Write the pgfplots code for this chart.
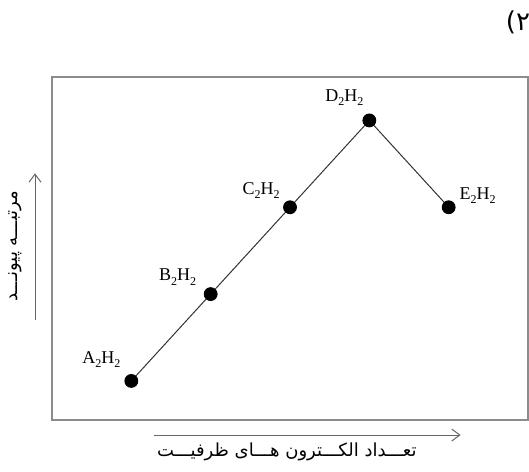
\documentclass[border=0pt]{standalone}
\usepackage{fontspec}
\setmainfont{Liberation Serif}
\newfontfamily\arabicfont[Script=Arabic]{DejaVu Sans}
\newfontfamily\dejavu{DejaVu Sans}
\TeXXeTstate=1
\usepackage{pgfplots}
\pgfplotsset{compat=1.18}
\usetikzlibrary{arrows.meta}
\newcommand{\sub}[1]{\raisebox{-0.5ex}{\fontsize{6}{7}\selectfont #1}}
\newcommand{\mol}[1]{#1\sub{2}H\sub{2}}

\begin{document}
\begin{tikzpicture}
\begin{axis}[
  width=238pt, height=171.5pt, scale only axis,
  xmin=0, xmax=6, ymin=0.55, ymax=4.5,
  axis line style={draw=black!45, line width=0.9pt},
  ticks=none,
  clip=false,
]
% bond order rises A..D, falls at E
\addplot[black!80, line width=0.5pt, mark=*, mark size=3.2pt,
  mark options={fill=black, draw=black}]
  coordinates {(1,1) (2,2) (3,3) (4,4) (5,3)};

\node[font=\fontsize{9}{10}\selectfont, xshift=-15pt, yshift=10.5pt] at (axis cs:1,1) {\mol{A}};
\node[font=\fontsize{9}{10}\selectfont, xshift=-16.5pt, yshift=8.5pt] at (axis cs:2,2) {\mol{B}};
\node[font=\fontsize{9}{10}\selectfont, xshift=-14.5pt, yshift=8.5pt] at (axis cs:3,3) {\mol{C}};
\node[font=\fontsize{9}{10}\selectfont, xshift=-12.5pt, yshift=11.5pt] at (axis cs:4,4) {\mol{D}};
\node[font=\fontsize{9}{10}\selectfont, xshift=14.5pt, yshift=6pt] at (axis cs:5,3) {\mol{E}};

% axis arrows outside the box
\draw[black!60, line width=0.5pt, -{Straight Barb[length=4pt,width=6pt]}]
  ([xshift=-8.5pt]axis cs:0,1.70) -- ([xshift=-8.5pt]axis cs:0,3.39);
\draw[black!60, line width=0.5pt, -{Straight Barb[length=4pt,width=6pt]}]
  ([yshift=-7.5pt]axis cs:1.29,0.55) -- ([yshift=-7.5pt]axis cs:5.15,0.55);

\node[rotate=90, font=\fontsize{9}{10}\selectfont] at ([xshift=-18.5pt]axis cs:0,2.55)
  {\arabicfont\beginR مرتبـــه پیونـــد\endR};
\node[font=\fontsize{9}{10}\selectfont] at ([yshift=-16pt]axis cs:2.96,0.55)
  {\arabicfont\beginR تعـــداد الکـــترون هـــای ظرفیـــت\endR};
\node[font=\fontsize{13}{14}\selectfont] at ([xshift=-5pt,yshift=27.5pt]axis cs:6,4.5)
  {{\dejavu(}\kern0pt{\dejavu ۲}};
\end{axis}
\pgfresetboundingbox
\useasboundingbox ([xshift=-26pt,yshift=-25.5pt]current axis.south west)
  rectangle ([xshift=0.5pt,yshift=38.5pt]current axis.north east);
\end{tikzpicture}
\end{document}
